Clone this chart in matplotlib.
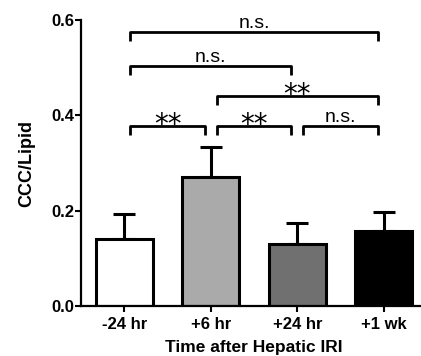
#necessary import statements
import numpy as np
import matplotlib.pyplot as plt

plt.rcParams['font.family'] = ['Liberation Sans', 'DejaVu Sans']

#values
groups = ['-24 hr', '+6 hr', '+24 hr', '+1 wk']
means = [0.140, 0.271, 0.131, 0.157]
sems = [0.054, 0.063, 0.044, 0.040]
colors = ['white', '#aaaaaa', '#707070', 'black']

#significance brackets: (left group, right group, height, label)
brackets = [
    (0, 1, 0.378, '**'),
    (1, 2, 0.378, '**'),
    (2, 3, 0.378, 'n.s.'),
    (1, 3, 0.440, '**'),
    (0, 2, 0.504, 'n.s.'),
    (0, 3, 0.575, 'n.s.'),
]

fig = plt.figure(figsize=(4.21, 3.56), dpi=100)
ax = fig.add_axes([0.1924, 0.1404, 0.822, 0.8034])

x = np.arange(len(groups))
ax.bar(x, means, width=0.66, color=colors, edgecolor='black', linewidth=2.2,
       zorder=2)
ax.errorbar(x, means, yerr=[np.zeros(len(sems)), sems], fmt='none',
            ecolor='black', elinewidth=2.2, capsize=8, capthick=2.2, zorder=1)

#draw brackets and labels
inset = 0.07
drop = 0.019
for a, b, h, label in brackets:
    x0, x1 = a + inset, b - inset
    ax.plot([x0, x0, x1, x1], [h - drop, h, h, h - drop], color='black',
            linewidth=2.0, solid_capstyle='butt', clip_on=False)
    if label == '**':
        ax.text((a + b) / 2, h - 0.014, label, ha='center', va='baseline',
                fontsize=20, family='DejaVu Sans')
    else:
        ax.text((a + b) / 2, h + 0.008, label, ha='center', va='baseline',
                fontsize=14)

ax.set_xlim(-0.5, 3.5)
ax.set_ylim(0, 0.6)
ax.set_xticks(x)
ax.set_xticklabels(groups, fontsize=12, fontweight='bold')
ax.set_yticks([0.0, 0.2, 0.4, 0.6])
ax.set_yticklabels(['0.0', '0.2', '0.4', '0.6'], fontsize=12, fontweight='bold')
ax.tick_params(axis='x', width=1.5, length=4, direction='out', pad=4)
ax.tick_params(axis='y', width=1.5, length=4, direction='out', pad=1)

#title and label each axis
ax.set_xlabel('Time after Hepatic IRI', fontsize=12.5, fontweight='bold')
ax.xaxis.set_label_coords(0.5, -0.12)
ax.set_ylabel('CCC/Lipid', fontsize=13, fontweight='bold')
ax.yaxis.set_label_coords(-0.131, 0.5)

for side in ['top', 'right']:
    ax.spines[side].set_visible(False)
for side in ['left', 'bottom']:
    ax.spines[side].set_linewidth(1.6)

fig.savefig('out.png', dpi=100)
